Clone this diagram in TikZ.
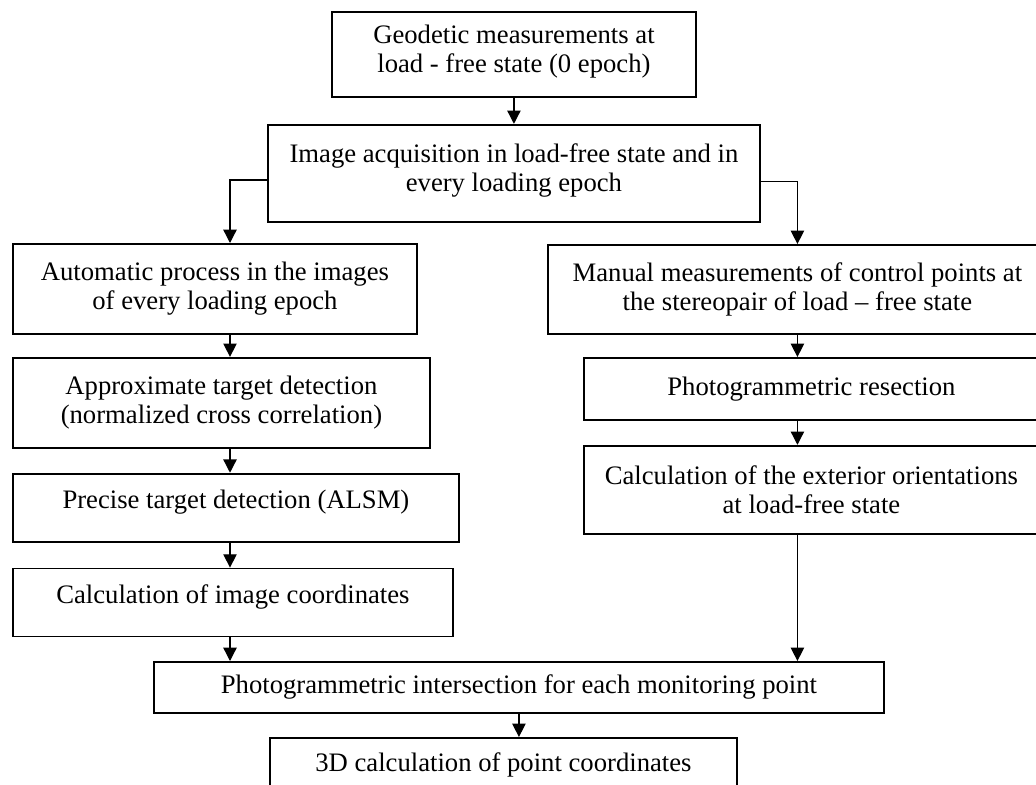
\documentclass[tikz,border=0pt]{standalone}
\usepackage{fontspec}
\setmainfont{Liberation Serif}
\usetikzlibrary{positioning, arrows.meta}

\begin{document}
\begin{tikzpicture}[x=0.75pt, y=-0.75pt,
        box/.style={draw, line width=1.4pt, align=center, anchor=north west, inner sep=0pt,
            font=\fontsize{20}{21.75}\selectfont},
        link/.style={->, line width=1pt},
        >={Triangle[length=10pt, width=10pt]}]
    \useasboundingbox (0,0) rectangle (1036,785);
    \node [box, minimum width=273pt, minimum height=63.75pt, text depth=9pt] (geo) at (331,11) {Geodetic measurements at\\load - free state (0 epoch)};
    \node [box, minimum width=369pt, minimum height=72.75pt, text depth=9pt, below=19.5pt of geo] (acq) {Image acquisition in load-free state and in\\every loading epoch};
    \node [box, minimum width=303pt, minimum height=67.5pt] (auto) at (12,243) {Automatic process in the images\\of every loading epoch};
    \node [box, minimum width=312.75pt, minimum height=67.5pt, below=16.5pt of auto.south west, anchor=north west] (approx) {Approximate target detection\\(normalized cross correlation)};
    \node [box, minimum width=334.5pt, minimum height=51pt, text depth=12pt, below=18pt of approx.south west, anchor=north west] (precise) {Precise target detection (ALSM)};
    \node [box, minimum width=330pt, minimum height=51pt, text depth=12pt, below=18.75pt of precise.south west, anchor=north west] (imgcoord) {Calculation of image coordinates};
    \node [box, minimum width=374.25pt, minimum height=66.75pt] (manual) at (547,244) {Manual measurements of control points at\\the stereopair of load – free state};
    \node [box, minimum width=341.25pt, minimum height=46.5pt] (resect) at (583,357) {Photogrammetric resection};
    \node [box, minimum width=341.25pt, minimum height=66pt, below=18pt of resect.south west, anchor=north west] (extor) {Calculation of the exterior orientations\\at load-free state};
    \node [box, minimum width=547.5pt, minimum height=38.25pt] (inter) at (153,661) {Photogrammetric intersection for each monitoring point};
    \node [box, minimum width=350.25pt, minimum height=41.25pt] (coord3d) at (269,737) {3D calculation of point coordinates};
    \coordinate (lcol) at (230,0);
    \draw [link] (geo.south) -- (geo.south |- acq.north);
    \draw [link] ([yshift=-5pt]acq.west) -| (auto.north -| lcol);
    \draw [link] ([yshift=-6pt]acq.east) -| (manual.north);
    \draw [link] (auto.south -| lcol) -- (approx.north -| lcol);
    \draw [link] (approx.south -| lcol) -- (precise.north -| lcol);
    \draw [link] (precise.south -| lcol) -- (imgcoord.north -| lcol);
    \draw [link] (imgcoord.south -| lcol) -- (inter.north -| lcol);
    \draw [link] (manual.south) -- (manual.south |- resect.north);
    \draw [link] (manual.south |- resect.south) -- (manual.south |- extor.north);
    \draw [link] (manual.south |- extor.south) -- (manual.south |- inter.north);
    \draw [link] (inter.south) -- (inter.south |- coord3d.north);
\end{tikzpicture}
\end{document}
